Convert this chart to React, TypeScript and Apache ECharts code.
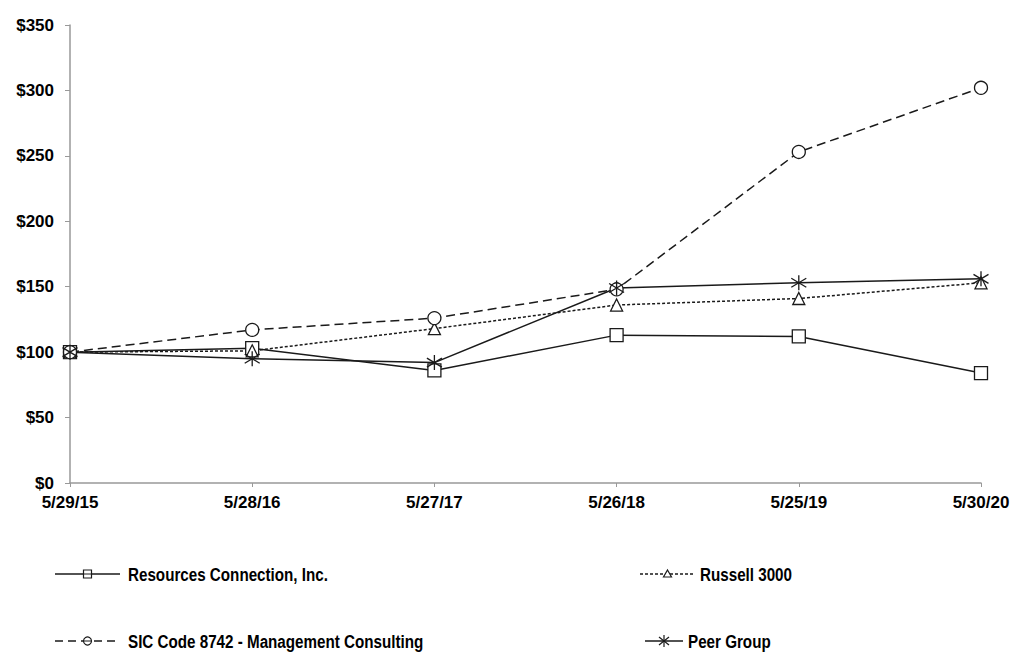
import React, { useEffect, useRef } from "react";
import * as echarts from "echarts";

const categories = ["5/29/15", "5/28/16", "5/27/17", "5/26/18", "5/25/19", "5/30/20"];
const resourcesConnection = [100, 103, 86, 113, 112, 84];
const russell3000 = [100, 101, 118, 136, 141, 153];
const sicCode8742 = [100, 117, 126, 148, 253, 302];
const peerGroup = [100, 95, 92, 149, 153, 156];
const yTicks = [0, 50, 100, 150, 200, 250, 300, 350];
const seriesNames = [
  "Resources Connection, Inc.",
  "Russell 3000",
  "SIC Code 8742 - Management Consulting",
  "Peer Group",
];

const FONT = "'Liberation Sans', Arial, sans-serif";
const ASTERISK = "path://M5,0 L5,10 M0,2 L10,8 M0,8 L10,2";
const INK = "#1a1a1a";

function legendItem(x1: number, x2: number, y: number, textX: number, label: string, dash: any, marker: string) {
  const cx = (x1 + x2) / 2;
  const children: any[] = [
    { type: "line", shape: { x1, y1: y, x2, y2: y }, style: { stroke: INK, lineWidth: 1.5, lineDash: dash } },
  ];
  if (marker === "rect") {
    children.push({ type: "rect", shape: { x: cx - 4, y: y - 4, width: 8, height: 8 }, style: { fill: "#fff", stroke: INK, lineWidth: 1.2 } });
    children.push({ type: "line", shape: { x1: cx - 4, y1: y, x2: cx + 4, y2: y }, style: { stroke: INK, lineWidth: 1 } });
  } else if (marker === "circle") {
    children.push({ type: "circle", shape: { cx, cy: y, r: 4 }, style: { fill: "#fff", stroke: INK, lineWidth: 1.2 } });
    children.push({ type: "line", shape: { x1: cx - 4, y1: y, x2: cx + 4, y2: y }, style: { stroke: INK, lineWidth: 1 } });
  } else if (marker === "triangle") {
    children.push({ type: "polygon", shape: { points: [[cx, y - 4], [cx + 4, y + 3], [cx - 4, y + 3]] }, style: { fill: "#fff", stroke: INK, lineWidth: 1.2 } });
  } else {
    children.push({ type: "line", shape: { x1: cx, y1: y - 6, x2: cx, y2: y + 6 }, style: { stroke: INK, lineWidth: 1.2 } });
    children.push({ type: "line", shape: { x1: cx - 5, y1: y - 4, x2: cx + 5, y2: y + 4 }, style: { stroke: INK, lineWidth: 1.2 } });
    children.push({ type: "line", shape: { x1: cx - 5, y1: y + 4, x2: cx + 5, y2: y - 4 }, style: { stroke: INK, lineWidth: 1.2 } });
  }
  children.push({
    type: "text",
    x: textX,
    y,
    scaleX: 0.8,
    style: { text: label, fill: "#000", font: `bold 19px ${FONT}`, verticalAlign: "middle", align: "left" },
  });
  return { type: "group", children };
}

export default function App() {
  const ref = useRef<HTMLDivElement>(null);
  useEffect(() => {
    if (!ref.current) return;
    const chart = echarts.init(ref.current, undefined, { renderer: "svg" });
    const mk = (name: string, data: number[], symbol: string, dash: any, size: number) => ({
      name,
      type: "line",
      data,
      symbol,
      symbolSize: size,
      showAllSymbol: true,
      lineStyle: { color: INK, width: 1.5, type: dash },
      itemStyle: { color: "#fff", borderColor: INK, borderWidth: 1.3 },
      emphasis: { disabled: true },
      z: 2,
    });
    chart.setOption({
      animation: false,
      backgroundColor: "#fff",
      grid: { left: 70, right: 34, top: 25, bottom: 172, containLabel: false },
      xAxis: {
        type: "category",
        data: categories,
        boundaryGap: false,
        axisLine: { lineStyle: { color: "#999", width: 1.5 } },
        axisTick: { show: true, alignWithLabel: true, length: 4, lineStyle: { color: "#999" } },
        axisLabel: { color: "#000", fontWeight: "bold", fontSize: 17, fontFamily: FONT, margin: 11, interval: 0 },
        splitLine: { show: false },
      },
      yAxis: {
        type: "value",
        min: 0,
        max: 350,
        interval: 50,
        axisLine: { show: true, lineStyle: { color: "#999", width: 1.5 } },
        axisTick: { show: true, length: 5, lineStyle: { color: "#999" } },
        axisLabel: {
          color: "#000",
          fontWeight: "bold",
          fontSize: 17,
          fontFamily: FONT,
          margin: 16,
          formatter: (v: number) => (yTicks.includes(v) ? "$" + v : ""),
        },
        splitLine: { show: false },
      },
      graphic: [
        legendItem(55, 120, 574, 128, seriesNames[0], null, "rect"),
        legendItem(640, 695, 574, 700, seriesNames[1], [3, 2], "triangle"),
        legendItem(55, 120, 641, 128, seriesNames[2], [8, 5], "circle"),
        legendItem(645, 683, 641, 688, seriesNames[3], null, "asterisk"),
      ],
      series: [
        mk(seriesNames[0], resourcesConnection, "rect", "solid", 13),
        mk(seriesNames[1], russell3000, "triangle", [3, 2], 12),
        mk(seriesNames[2], sicCode8742, "circle", [9, 5], 13),
        mk(seriesNames[3], peerGroup, ASTERISK, "solid", 15),
      ],
    });
    return () => chart.dispose();
  }, []);
  return <div ref={ref} style={{ width: 1015, height: 655, position: "absolute", left: 0, top: 0 }} />;
}
